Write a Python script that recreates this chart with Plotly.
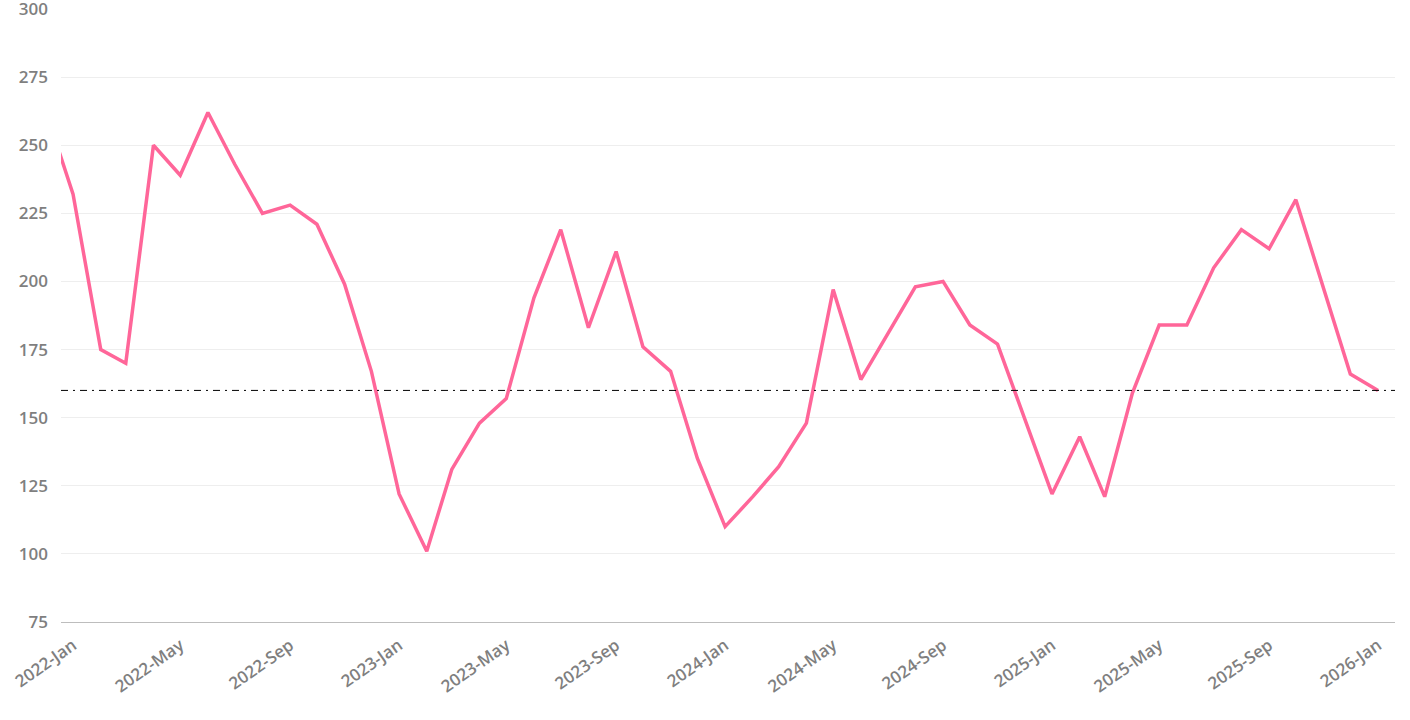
import plotly.graph_objects as go

months = [
    "2021-12-01",
    "2022-01-01", "2022-02-01", "2022-03-01", "2022-04-01", "2022-05-01", "2022-06-01",
    "2022-07-01", "2022-08-01", "2022-09-01", "2022-10-01", "2022-11-01", "2022-12-01",
    "2023-01-01", "2023-02-01", "2023-03-01", "2023-04-01", "2023-05-01", "2023-06-01",
    "2023-07-01", "2023-08-01", "2023-09-01", "2023-10-01", "2023-11-01", "2023-12-01",
    "2024-01-01", "2024-02-01", "2024-03-01", "2024-04-01", "2024-05-01", "2024-06-01",
    "2024-07-01", "2024-08-01", "2024-09-01", "2024-10-01", "2024-11-01", "2024-12-01",
    "2025-01-01", "2025-02-01", "2025-03-01", "2025-04-01", "2025-05-01", "2025-06-01",
    "2025-07-01", "2025-08-01", "2025-09-01", "2025-10-01", "2025-11-01", "2025-12-01",
    "2026-01-01",
]
values = [
    263,
    232, 175, 170, 250, 239, 262,
    243, 225, 228, 221, 199, 167,
    122, 101, 131, 148, 157, 194,
    219, 183, 211, 176, 167, 135,
    110, 121, 132, 148, 197, 164,
    181, 198, 200, 184, 177, 150,
    122, 143, 121, 159, 184, 184,
    205, 219, 212, 230, 197, 166,
    160,
]
reference_level = 160

x_range = ["2021-12-18 12:00", "2026-01-20"]
y_range = [75, 300]

fig = go.Figure()
fig.add_trace(go.Scatter(
    x=months, y=values, mode="lines",
    line=dict(color="#ff6699", width=3.5),
    showlegend=False, hoverinfo="x+y",
))
fig.add_shape(
    type="line", xref="paper", x0=0, x1=1, yref="y",
    y0=reference_level, y1=reference_level,
    line=dict(color="black", width=1, dash="7px,5px,2px,5px"),
)

tick_font = dict(family="Open Sans", size=17, color="#7f7f7f", weight=600)

fig.update_layout(
    width=1410, height=720,
    margin=dict(l=61, r=15, t=9, b=98),
    plot_bgcolor="white", paper_bgcolor="white",
    xaxis=dict(
        type="date", range=x_range, tick0="2022-01-01", dtick="M4",
        tickformat="%Y-%b", tickangle=-35, tickfont=tick_font,
        showgrid=False, showline=True, linecolor="#bdbdbd", linewidth=1,
        zeroline=False, ticks="", automargin=False, ticklabelstandoff=6,
    ),
    yaxis=dict(
        range=y_range, dtick=25, tick0=75, tickfont=tick_font,
        showgrid=True, gridcolor="#eeeeee", gridwidth=1,
        zeroline=False, showline=False, ticks="", ticklabelstandoff=12,
        automargin=False, ticklabeloverflow="allow",
    ),
)

fig.write_html(
    "out.html",
    config={"displayModeBar": False},
    post_script="document.body.style.margin='0';document.body.style.overflow='hidden';",
)
